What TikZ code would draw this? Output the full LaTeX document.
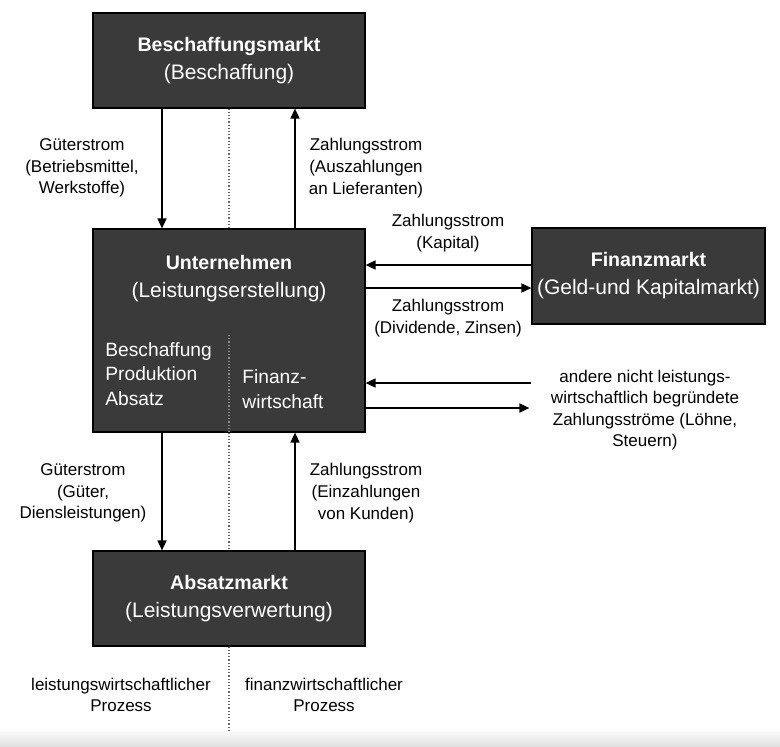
\documentclass[tikz,border=0pt]{standalone}
\usepackage{fontspec}
\setmainfont{Liberation Sans}
\usepackage{xcolor}
\usetikzlibrary{arrows.meta, positioning, math, calc}
\definecolor{boxgray}{RGB}{58,58,58}

\begin{document}
\begin{tikzpicture}[x=0.5pt, y=-0.5pt,
  markt/.style={draw=black, line width=0.6pt, fill=boxgray, text=white, align=center,
    inner sep=0pt, minimum width=136pt, minimum height=47.5pt, font=\fontsize{10.5}{14}\selectfont},
  flow/.style={-{Triangle[length=5pt,width=4.5pt]}, line width=0.8pt},
  trenner/.style={densely dotted, line width=0.6pt, black!60},
  lbl/.style={align=center, inner sep=0pt, font=\fontsize{8.5}{10.8}\selectfont},
  innen/.style={align=left, inner sep=0pt, text=white, font=\fontsize{9.6}{12.3}\selectfont}]
\useasboundingbox (0,0) rectangle (780,746);
\fill[top color=white, bottom color=black!12] (0,728) rectangle (780,746);

%The markets:
\node[markt] (bm) at (229,60.5) {{\fontsize{9.8}{14}\selectfont\bfseries Beschaffungsmarkt}\\(Beschaffung)};
\node[markt, minimum height=101.5pt] (un) at (229,330.5) {};
\node[markt] (am) at (229,598.5) {{\fontsize{9.8}{14}\selectfont\bfseries Absatzmarkt}\\(Leistungsverwertung)};
\node[markt, minimum width=116.5pt, minimum height=48pt] (fm) at (648.5,276) {{\fontsize{9.8}{14}\selectfont\bfseries Finanzmarkt}\\(Geld-und Kapitalmarkt)};

%Inside the company:
\node[markt, draw=none, fill=none, minimum width=0pt, minimum height=0pt] (un-t) at (229,279) {{\fontsize{9.8}{14}\selectfont\bfseries Unternehmen}\\(Leistungserstellung)};
\node[innen, anchor=west] (un-l) at (105,374) {Beschaffung\\Produktion\\Absatz};
\node[innen, anchor=west] (un-r) at (242,389) {Finanz-\\wirtschaft};

%Dividing line:
\coordinate (teiler) at (229,335);
\coordinate (ende) at (229,730);
\draw[trenner] (bm.south) -- (un.north);
\draw[trenner, black!45] (teiler) -- (un.south);
\draw[trenner] (un.south) -- (am.north);
\draw[trenner] (am.south) -- (ende);

%Flows:
\coordinate (gl) at (162,0);
\coordinate (zr) at (295,0);
\coordinate (k1) at (0,265);
\coordinate (k2) at (0,288);
\coordinate (a1) at (0,383);
\coordinate (a2) at (0,408);
\draw[flow] (bm.south -| gl) -- (un.north -| gl);
\draw[flow] (un.north -| zr) -- (bm.south -| zr);
\draw[flow] (un.south -| gl) -- (am.north -| gl);
\draw[flow] (am.north -| zr) -- (un.south -| zr);
\draw[flow] (fm.west |- k1) -- (un.east |- k1);
\draw[flow] (un.east |- k2) -- (fm.west |- k2);
\draw[flow] (fm.west |- a1) -- (un.east |- a1);
\draw[flow] (un.east |- a2) -- ($(fm.west |- a2)+(-2,0)$);

%Labels:
\node[lbl] (l-gs1) at (82,168) {Güterstrom\\(Betriebsmittel,\\Werkstoffe)};
\node[lbl] (l-zs1) at (366,168) {Zahlungsstrom\\(Auszahlungen\\an Lieferanten)};
\node[lbl] (l-kap) at (448,233) {Zahlungsstrom\\(Kapital)};
\node[lbl] (l-div) at (448,318) {Zahlungsstrom\\(Dividende, Zinsen)};
\node[lbl] (l-and) at (645,410) {andere nicht leistungs-\\wirtschaftlich begründete\\Zahlungsströme (Löhne,\\Steuern)};
\node[lbl] (l-gs2) at (83,493) {Güterstrom\\(Güter,\\Diensleistungen)};
\node[lbl] (l-zs2) at (366,493) {Zahlungsstrom\\(Einzahlungen\\von Kunden)};
\node[lbl] (l-lw) at (121,695) {leistungswirtschaftlicher\\Prozess};
\node[lbl] (l-fw) at (324,695) {finanzwirtschaftlicher\\Prozess};
\end{tikzpicture}
\end{document}
